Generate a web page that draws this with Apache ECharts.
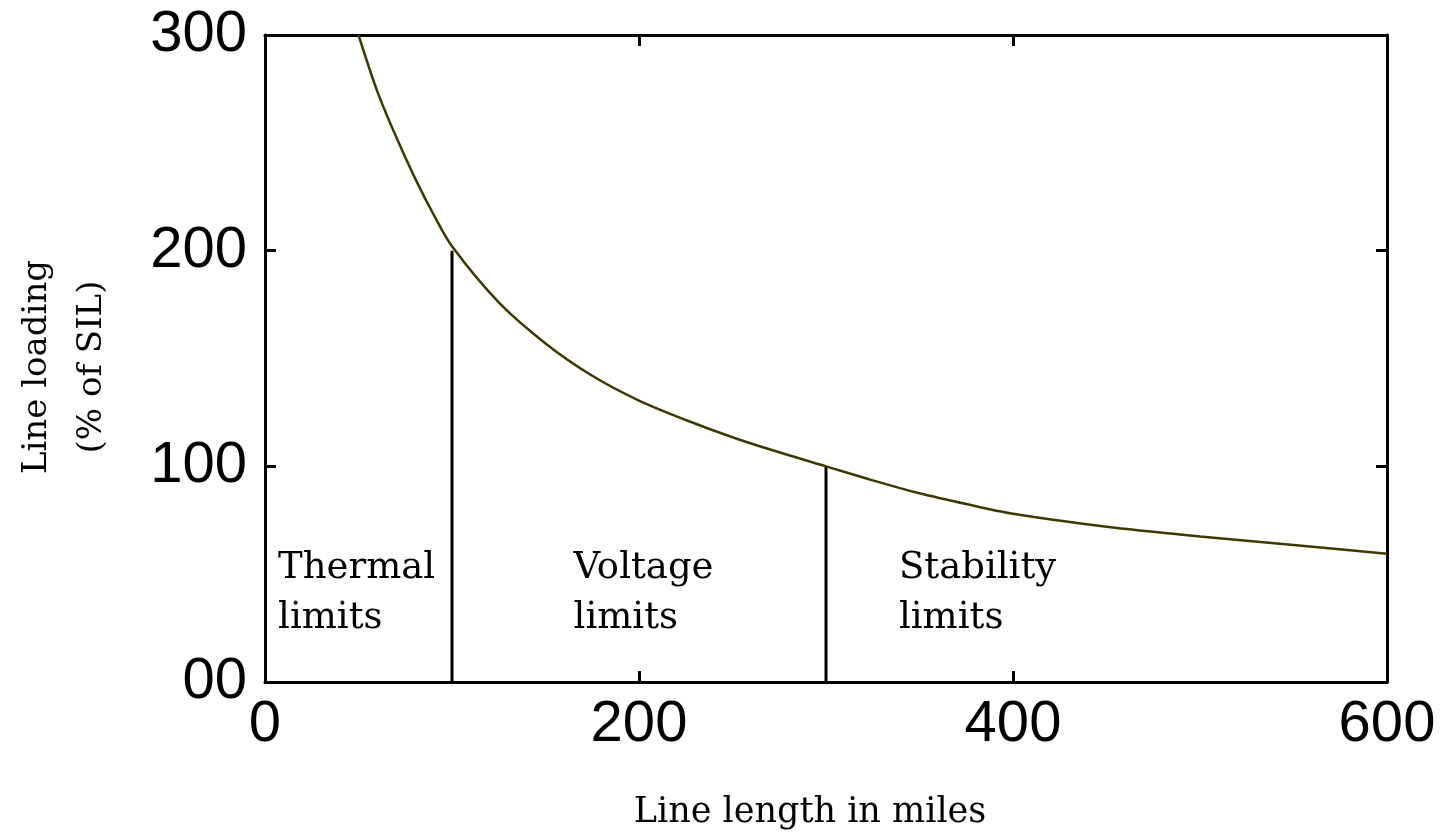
<!DOCTYPE html>
<html>
<head>
<meta charset="utf-8">
<title>Line loading vs line length</title>
<script src="https://cdn.jsdelivr.net/npm/echarts@6/dist/echarts.min.js"></script>
<style>
html, body { margin: 0; padding: 0; background: #fff; }
#chart { width: 1446px; height: 836px; }
</style>
</head>
<body>
<div id="chart"></div>
<script>
// line loading curve (St. Clair curve)
const curveX = [50, 60, 70, 80, 90, 100, 125, 150, 175, 200, 225, 250, 275, 300, 325, 350, 375, 400, 450, 500, 550, 600];
const curveY = [300, 274, 253, 234, 217, 202, 176, 157, 142, 130.5, 121.5, 113.5, 106.5, 100, 93.5, 87.5, 82.5, 78, 72, 67.5, 63.5, 59.5];

// vertical dividers between the regions
const limitX = [100, 300];
const limitTop = [200, 100];

// region labels
const regionNames = ['Thermal\nlimits', 'Voltage\nlimits', 'Stability\nlimits'];
const regionX = [7, 165, 339];
const regionY = [41, 41, 41];

// axis ticks
const xTicks = [0, 200, 400, 600];
const yTicks = [0, 100, 200, 300];
const yTickLabels = ['00', '100', '200', '300'];

const serif = 'DejaVu Serif';
const sans = 'Liberation Sans';

const chart = echarts.init(document.getElementById('chart'));

const tickStyle = {
    show: true,
    inside: true,
    length: 11,
    lineStyle: { color: '#000', width: 3 }
};
const lineStyle = { show: true, onZero: false, lineStyle: { color: '#000', width: 3 } };

const curveData = curveX.map((x, i) => [x, curveY[i]]);
const dividerSeries = limitX.map((x, i) => ({
    type: 'line',
    data: [[x, 0], [x, limitTop[i]]],
    symbol: 'none',
    lineStyle: { color: '#000', width: 3 },
    silent: true,
    z: 3
}));

chart.setOption({
    backgroundColor: '#fff',
    animation: false,
    grid: { left: 265, right: 59, top: 35, bottom: 154 },
    xAxis: [
        {
            type: 'value',
            position: 'bottom',
            min: xTicks[0],
            max: xTicks[xTicks.length - 1],
            interval: xTicks[1] - xTicks[0],
            axisLine: lineStyle,
            axisTick: tickStyle,
            splitLine: { show: false },
            axisLabel: {
                margin: 14,
                color: '#000',
                fontFamily: sans,
                fontSize: 58,
                hideOverlap: false
            },
            name: 'Line length in miles',
            nameLocation: 'middle',
            nameGap: 113,
            nameTextStyle: {
                color: '#000',
                fontFamily: serif,
                fontSize: 35,
                padding: [0, 32, 0, 0]
            }
        },
        {
            type: 'value',
            position: 'top',
            min: xTicks[0],
            max: xTicks[xTicks.length - 1],
            interval: xTicks[1] - xTicks[0],
            axisLine: lineStyle,
            axisTick: tickStyle,
            axisLabel: { show: false },
            splitLine: { show: false }
        }
    ],
    yAxis: [
        {
            type: 'value',
            position: 'left',
            min: yTicks[0],
            max: yTicks[yTicks.length - 1],
            interval: yTicks[1] - yTicks[0],
            axisLine: lineStyle,
            axisTick: tickStyle,
            splitLine: { show: false },
            axisLabel: {
                margin: 18,
                color: '#000',
                fontFamily: sans,
                fontSize: 58,
                hideOverlap: false,
                formatter: v => yTickLabels[yTicks.indexOf(v)]
            },
            name: 'Line loading\n(% of SIL)',
            nameLocation: 'middle',
            nameRotate: 90,
            nameGap: 145,
            nameTextStyle: {
                color: '#000',
                fontFamily: serif,
                fontSize: 34,
                lineHeight: 55,
                padding: [0, 17, 0, 0]
            }
        },
        {
            type: 'value',
            position: 'right',
            min: yTicks[0],
            max: yTicks[yTicks.length - 1],
            interval: yTicks[1] - yTicks[0],
            axisLine: lineStyle,
            axisTick: tickStyle,
            axisLabel: { show: false },
            splitLine: { show: false }
        }
    ],
    series: [
        {
            name: 'Line loading',
            type: 'line',
            data: curveData,
            smooth: 0.3,
            symbol: 'none',
            lineStyle: { color: '#3d3900', width: 2.5 },
            silent: true,
            z: 4
        },
        ...dividerSeries
    ]
});

// region labels, placed through the axes' own scales
chart.setOption({
    graphic: regionNames.map((n, i) => {
        const pt = chart.convertToPixel({ xAxisIndex: 0, yAxisIndex: 0 }, [regionX[i], regionY[i]]);
        return {
            type: 'text',
            x: pt[0],
            y: pt[1],
            silent: true,
            style: {
                text: n,
                fill: '#000',
                font: '37px "' + serif + '"',
                lineHeight: 50,
                align: 'left',
                verticalAlign: 'middle'
            }
        };
    })
});
</script>
</body>
</html>
